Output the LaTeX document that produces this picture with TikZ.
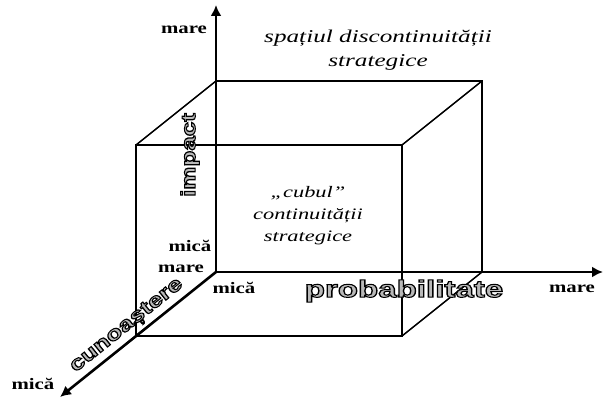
\documentclass[tikz,border=0pt]{standalone}
\usepackage{fontspec}
\setmainfont{Liberation Serif}
\setsansfont{Liberation Sans}
\usetikzlibrary{arrows.meta}
% gray letters with a black outline
\newcommand{\outl}[1]{\special{pdf:literal direct 0 G 1 w 2 Tr}#1\special{pdf:literal direct 0 Tr}}

\begin{document}
\begin{tikzpicture}[x=1pt,y=-1pt,
    axis/.style={line width=2.6pt,-{Latex[length=11pt,width=11pt]}},
    edge/.style={line width=1.5pt},
    tick/.style={font=\bfseries\fontsize{16}{16}\selectfont,xscale=1.3},
    zone/.style={font=\itshape\fontsize{18}{24}\selectfont,align=center,xscale=1.4},
    axlabel/.style={font=\sffamily\bfseries\fontsize{20}{20}\selectfont,text=gray!55,xscale=1.3}
  ]
    \useasboundingbox (0,0) rectangle (603,398);
    % corners of the cube
    \coordinate (o) at (216,272);
    \coordinate (b1) at (216,81);
    \coordinate (b2) at (482,81);
    \coordinate (b3) at (482,272);
    \coordinate (f0) at (136,336);
    \coordinate (f1) at (136,145);
    \coordinate (f2) at (402,145);
    \coordinate (f3) at (402,336);
    % axis ends
    \coordinate (ytip) at (216,5);
    \coordinate (xtip) at (603,272);
    \coordinate (ztip) at (60,397);
    \draw[edge] (b1) -- (b2) -- (b3);
    \draw[edge] (f1) -- (f2) -- (f3) -- (f0) -- cycle;
    \draw[edge] (b1) -- (f1);
    \draw[edge] (b2) -- (f2);
    \draw[edge] (b3) -- (f3);
    \draw[axis] (o) -- (ytip);
    \draw[axis] (o) -- (xtip);
    \draw[axis] (o) -- (ztip);
    \node[tick] (ymare) at (184,30) {mare};
    \node[tick] (ymica) at (190,246) {mică};
    \node[tick] (zmare) at (181,269) {mare};
    \node[tick] (xmica) at (234,288) {mică};
    \node[tick] (xmare) at (572,289) {mare};
    \node[tick] (zmica) at (33,384) {mică};
    \node[zone] (disc) at (378,50) {spațiul discontinuității\\strategice};
    \node[zone,font=\itshape\fontsize{16}{22}\selectfont] (cub) at (308,216)
        {„cubul”\\continuității\\strategice};
    \node[rotate=90,axlabel] (imp) at (190,155) {\outl{impact}};
    \node[axlabel,font=\sffamily\bfseries\fontsize{24}{24}\selectfont,xscale=1.06]
        (prob) at (404,291) {\outl{probabilitate}};
    \node[rotate=38.7,axlabel] (cun) at (127,326) {\outl{cunoaștere}};
  \end{tikzpicture}
\end{document}
